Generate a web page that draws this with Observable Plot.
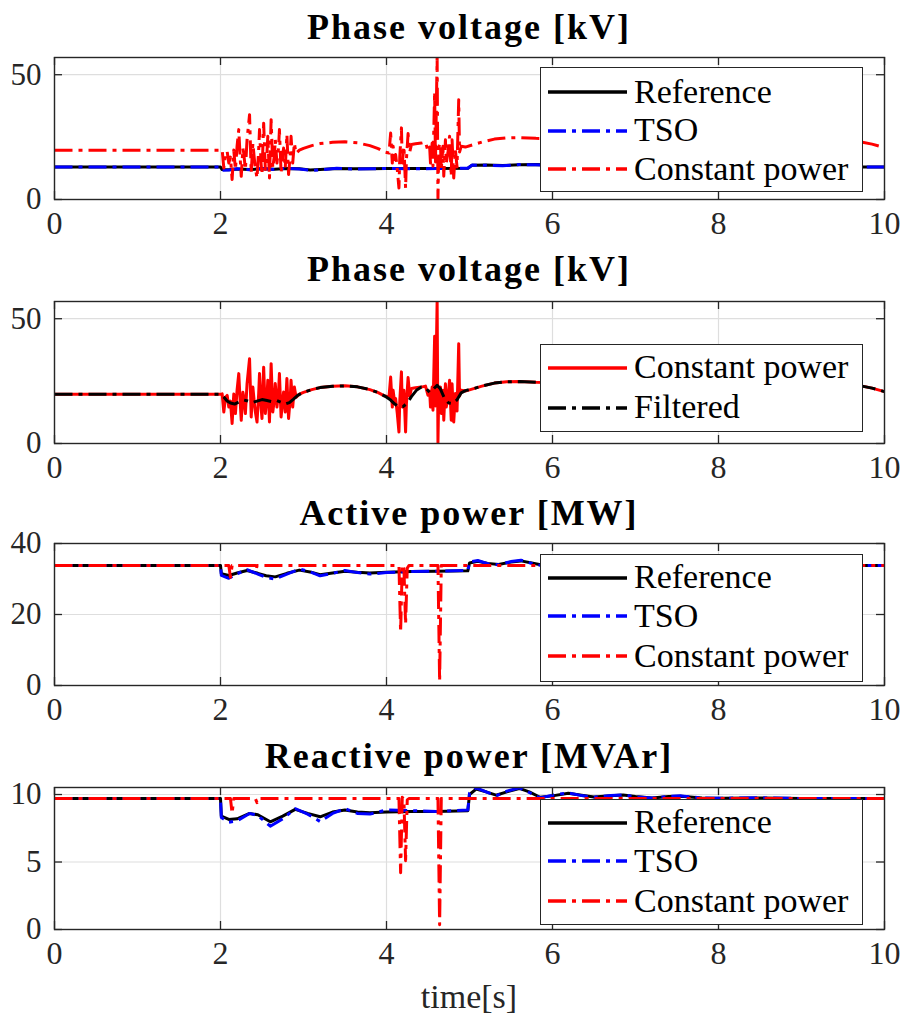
<!DOCTYPE html>
<html>
<head>
<meta charset="utf-8">
<script src="https://cdn.jsdelivr.net/npm/d3@7"></script>
<script src="https://cdn.jsdelivr.net/npm/@observablehq/plot@0.6"></script>
<style>
  body { margin: 0; background: #fff; }
  #wrap { position: relative; width: 904px; height: 1018px; overflow: hidden; font-family: "Liberation Serif", serif; background: #fff; }
  .panel { position: absolute; left: 0; }
  .title { position: absolute; left: 54px; width: 830px; text-align: center; font-weight: bold; font-size: 36px; letter-spacing: 2px; line-height: 1; color: #000; white-space: nowrap; }
  .xlabel { position: absolute; left: 54px; width: 830px; text-align: center; font-size: 34px; line-height: 1; color: #262626; }
  .legend { position: absolute; left: 540px; width: 323px; background: #fff; border: 1.3px solid #262626; box-sizing: border-box; }
  .legend .row { position: absolute; left: 0; height: 0; }
  .legend svg { position: absolute; left: 6px; top: -6px; }
  .legend span { position: absolute; left: 93px; top: -17.3px; font-size: 34px; line-height: 1; color: #000; white-space: nowrap; }
</style>
</head>
<body>
<div id="wrap"></div>
<script>
// ---------- labels / ticks ----------
const titles = ["Phase voltage [kV]", "Phase voltage [kV]", "Active power [MW]", "Reactive power [MVAr]"];
const xLabel = "time[s]";
const xTicks = [0, 2, 4, 6, 8, 10];
const yTicksV = [0, 50];
const yTicksP = [0, 20, 40];
const yTicksQ = [0, 5, 10];
const seriesNames = ["Reference", "TSO", "Constant power", "Filtered"];

// ---------- Panel 1: phase voltage ----------
const v1RefT = [0, 2.0, 2.02, 2.1, 2.2, 2.35, 2.5, 2.65, 2.8, 2.95, 3.08, 3.2, 3.4, 3.6, 3.8, 4.0, 4.3, 4.6, 4.98, 5.03, 5.2, 5.4, 5.6, 5.8, 6.1, 6.5, 7.0, 7.5, 8.0, 9.0, 10];
const v1RefV = [13.0, 13.0, 12.0, 11.9, 12.2, 12.0, 12.3, 12.1, 12.4, 12.3, 11.8, 12.0, 12.4, 12.3, 12.3, 12.4, 12.4, 12.4, 12.5, 13.7, 13.8, 13.6, 13.9, 14.0, 13.6, 13.3, 13.1, 13.0, 13.0, 13.0, 13.0];
const v1TsoT = [0, 2.0, 2.02, 2.1, 2.2, 2.35, 2.5, 2.65, 2.8, 2.95, 3.1, 3.25, 3.4, 3.6, 3.8, 4.0, 4.3, 4.6, 4.98, 5.03, 5.2, 5.4, 5.6, 5.8, 6.1, 6.5, 7.0, 7.5, 8.0, 9.0, 10];
const v1TsoV = [13.0, 13.0, 11.7, 11.8, 12.3, 11.9, 12.4, 12.0, 12.5, 12.2, 11.6, 12.0, 12.5, 12.2, 12.3, 12.4, 12.3, 12.4, 12.5, 13.8, 13.7, 13.5, 14.0, 13.9, 13.5, 13.3, 13.1, 13.0, 13.0, 13.0, 13.0];

// Constant power voltage (shared by panels 1 and 2)
const vCpT = [0, 2.00, 2.02, 2.04, 2.06, 2.08, 2.10, 2.12, 2.14, 2.16, 2.18, 2.20, 2.22, 2.24, 2.25, 2.27, 2.28, 2.30, 2.32, 2.35, 2.37, 2.39, 2.41, 2.42, 2.44, 2.46, 2.47, 2.49, 2.50, 2.52, 2.54, 2.56, 2.57, 2.59, 2.61, 2.63, 2.65, 2.66, 2.68, 2.70, 2.71, 2.73, 2.75, 2.76, 2.78, 2.80, 2.82, 2.84, 2.85, 2.87, 2.89, 2.91,
  2.95, 3.00, 3.10, 3.20, 3.35, 3.50, 3.65, 3.80, 3.90, 3.98,
  4.03, 4.05, 4.07, 4.08, 4.10, 4.11, 4.13, 4.15, 4.16, 4.18, 4.19, 4.21, 4.23, 4.24, 4.26, 4.28, 4.30, 4.35, 4.42, 4.47,
  4.50, 4.52, 4.53, 4.55, 4.56, 4.58, 4.59, 4.61, 4.62, 4.63, 4.65, 4.66, 4.68, 4.69, 4.71, 4.72, 4.74, 4.76, 4.78, 4.79, 4.81, 4.83, 4.85, 4.87, 4.88, 4.90,
  4.95, 5.05, 5.15, 5.30, 5.45, 5.60, 5.80, 6.20, 6.80, 7.50, 8.20, 9.00, 9.50, 9.70, 9.85, 10.0];
const vCpV = [19.7, 19.7, 19.9, 12.6, 18.5, 19.3, 14.6, 17.0, 8.0, 19.8, 12.0, 21.5, 28.0, 15.0, 9.3, 20.5, 18.6, 12.0, 24.0, 34.0, 10.6, 22.6, 15.5, 12.6, 8.6, 20.0, 28.0, 14.0, 10.0, 30.6, 12.0, 19.0, 25.3, 8.6, 32.0, 12.6, 18.0, 24.0, 14.6, 21.0, 28.0, 10.6, 17.5, 20.6, 12.6, 26.0, 10.0, 18.0, 25.3, 14.6, 22.6, 18.5,
  19.8, 20.5, 21.6, 22.4, 22.9, 23.1, 22.7, 21.6, 20.4, 19.0,
  18.6, 26.6, 14.6, 21.3, 16.0, 18.0, 12.0, 4.6, 17.0, 28.7, 14.6, 21.3, 4.6, 16.0, 26.4, 19.0, 22.0, 22.3, 22.6, 23.0,
  19.3, 21.0, 14.6, 22.6, 13.3, 43.0, 15.0, 57.0, 0.5, 21.0, 22.6, 12.0, 21.3, 9.3, 23.9, 14.6, 18.6, 25.3, 9.3, 23.9, 8.6, 20.0, 13.0, 40.0, 19.0, 21.3,
  21.0, 22.0, 23.0, 24.2, 24.7, 24.8, 24.5, 24.2, 24.0, 23.9, 24.0, 24.0, 23.7, 23.2, 22.2, 20.8];

// Filtered (panel 2)
const vFiltT = [0, 2.0, 2.04, 2.08, 2.12, 2.17, 2.22, 2.28, 2.33, 2.38, 2.44, 2.50, 2.56, 2.62, 2.68, 2.73, 2.78, 2.83, 2.88, 2.93, 3.00, 3.10, 3.20, 3.35, 3.50, 3.65, 3.80, 3.90, 3.98,
  4.05, 4.10, 4.15, 4.20, 4.25, 4.30, 4.36, 4.42, 4.47, 4.52, 4.57, 4.61, 4.65, 4.70, 4.75, 4.80, 4.85, 4.90, 4.95,
  5.05, 5.15, 5.30, 5.45, 5.60, 5.80, 6.20, 6.80, 7.50, 8.20, 9.00, 9.50, 9.70, 9.85, 10.0];
const vFiltV = [19.7, 19.7, 18.6, 17.0, 16.2, 15.8, 16.6, 17.4, 17.0, 16.4, 17.0, 17.6, 17.2, 16.8, 17.2, 16.5, 15.8, 16.4, 17.8, 19.3, 20.5, 21.6, 22.4, 22.9, 23.1, 22.7, 21.6, 20.4, 19.0,
  17.4, 15.8, 14.6, 14.8, 16.2, 18.8, 21.3, 22.6, 22.3, 20.5, 22.0, 23.3, 21.8, 18.0, 16.2, 16.0, 17.5, 20.3, 21.2,
  22.0, 23.0, 24.2, 24.7, 24.8, 24.5, 24.2, 24.0, 23.9, 24.0, 24.0, 23.7, 23.2, 22.2, 20.8];

// ---------- Panel 3: active power ----------
const pT = [0, 2.0, 2.01, 2.1, 2.2, 2.32, 2.45, 2.55, 2.66, 2.8, 2.95, 3.08, 3.2, 3.35, 3.5, 3.65, 3.8, 4.0, 4.3, 4.6, 4.98, 5.0, 5.1, 5.22, 5.35, 5.5, 5.62, 5.75, 5.9, 6.1, 6.4, 6.8, 7.2, 7.8, 8.5, 10];
const pRefV = [33.8, 33.8, 31.5, 31.0, 31.7, 32.4, 31.6, 30.9, 30.6, 31.6, 32.5, 32.0, 31.2, 31.7, 32.2, 31.9, 31.7, 31.9, 32.1, 32.2, 32.3, 34.5, 35.0, 34.4, 34.1, 34.8, 35.1, 34.5, 33.8, 34.3, 33.6, 34.0, 33.7, 33.9, 33.8, 33.8];
const pTsoV = [33.8, 33.8, 31.0, 30.2, 31.5, 32.6, 31.4, 30.4, 30.0, 31.4, 32.8, 32.0, 30.9, 31.6, 32.4, 31.8, 31.4, 31.8, 32.1, 32.2, 32.4, 34.8, 35.2, 34.3, 34.0, 34.9, 35.3, 34.4, 33.6, 34.4, 33.5, 34.1, 33.6, 33.9, 33.8, 33.8];
const pCpT = [0, 2.1, 2.12, 2.14, 2.42, 2.43, 2.44, 4.15, 4.17, 4.19, 4.21, 4.23, 4.25, 4.27, 4.62, 4.64, 4.66, 10];
const pCpV = [33.8, 33.8, 30.5, 33.8, 33.8, 32.5, 33.8, 33.8, 15.0, 34.0, 33.0, 17.3, 33.0, 33.8, 33.8, 1.2, 33.8, 33.8];

// ---------- Panel 4: reactive power ----------
const qT = [0, 2.0, 2.01, 2.1, 2.2, 2.35, 2.45, 2.6, 2.75, 2.9, 3.05, 3.2, 3.35, 3.5, 3.65, 3.8, 4.0, 4.3, 4.6, 4.98, 5.0, 5.08, 5.2, 5.32, 5.45, 5.6, 5.72, 5.85, 6.0, 6.19, 6.35, 6.5, 6.7, 6.85, 7.0, 7.2, 7.4, 7.55, 7.8, 8.0, 8.5, 9.0, 10];
const qRefV = [9.7, 9.7, 8.4, 8.15, 8.2, 8.6, 8.5, 7.98, 8.4, 8.9, 8.6, 8.35, 8.7, 8.85, 8.7, 8.65, 8.7, 8.75, 8.75, 8.8, 10.0, 10.4, 10.2, 9.95, 10.2, 10.45, 10.2, 9.8, 9.9, 10.1, 9.95, 9.82, 9.9, 9.97, 9.85, 9.75, 9.85, 9.88, 9.75, 9.72, 9.75, 9.7, 9.7];
const qTsoV = [9.7, 9.7, 8.3, 7.95, 8.05, 8.6, 8.45, 7.65, 8.2, 8.95, 8.55, 8.0, 8.6, 8.95, 8.6, 8.55, 8.85, 8.8, 8.75, 8.85, 10.1, 10.5, 10.2, 9.9, 10.25, 10.5, 10.15, 9.75, 9.95, 10.12, 9.92, 9.8, 9.92, 9.98, 9.83, 9.74, 9.86, 9.9, 9.74, 9.72, 9.76, 9.7, 9.7];
const qCpT = [0, 2.12, 2.14, 2.16, 2.42, 2.44, 2.46, 4.15, 4.17, 4.19, 4.21, 4.23, 4.25, 4.27, 4.62, 4.64, 4.66, 10];
const qCpV = [9.7, 9.7, 8.6, 9.7, 9.7, 9.4, 9.7, 9.7, 4.2, 9.8, 9.6, 5.1, 9.6, 9.7, 9.7, 0.35, 9.7, 9.7];

// ---------- helpers ----------
const zipTV = (t, v) => t.map((x, i) => ({t: x, v: v[i]}));
const BLACK = "#000000", BLUE = "#0000ff", RED = "#ff0000";
const DASHDOT = "18,6,4,6";
const AX = "#262626";
const FONT = "Liberation Serif, serif";
const plotH = 142, plotW = 830;

function lineMark(t, v, color, dashed) {
  return Plot.line(zipTV(t, v), {
    x: "t", y: "v", stroke: color, strokeWidth: 3,
    strokeDasharray: dashed ? DASHDOT : null,
    strokeLinecap: "butt", strokeLinejoin: "round", clip: true
  });
}

function makePanel(yDomain, yTicks, lines, marginBottom) {
  return Plot.plot({
    width: 904, height: 50 + plotH + marginBottom,
    marginLeft: 54, marginRight: 20, marginTop: 50, marginBottom,
    style: {fontFamily: FONT, fontSize: "32px", color: AX, background: "transparent", overflow: "visible"},
    x: {domain: [0, 10]},
    y: {domain: yDomain},
    marks: [
      Plot.gridX(xTicks, {stroke: "#dedede", strokeOpacity: 1, strokeWidth: 1.2}),
      Plot.gridY(yTicks, {stroke: "#dedede", strokeOpacity: 1, strokeWidth: 1.2}),
      ...lines,
      Plot.tickX(xTicks, {x: d => d, insetTop: plotH - 8, stroke: AX, strokeWidth: 1.3}),
      Plot.tickX(xTicks, {x: d => d, insetBottom: plotH - 8, stroke: AX, strokeWidth: 1.3}),
      Plot.tickY(yTicks, {y: d => d, insetRight: plotW - 8, stroke: AX, strokeWidth: 1.3}),
      Plot.tickY(yTicks, {y: d => d, insetLeft: plotW - 8, stroke: AX, strokeWidth: 1.3}),
      Plot.frame({stroke: AX, strokeWidth: 1.4}),
      Plot.axisX(xTicks, {tickSize: 0, tickPadding: 12, fontSize: 32, label: null, fill: AX}),
      Plot.axisY(yTicks, {tickSize: 0, tickPadding: 13, fontSize: 31, label: null, fill: AX})
    ]
  });
}

const wrap = document.getElementById("wrap");
function place(el, top) {
  const d = document.createElement("div");
  d.className = "panel";
  d.style.top = top + "px";
  d.appendChild(el);
  wrap.appendChild(d);
}
function addTitle(text, baseline) {
  const d = document.createElement("div");
  d.className = "title";
  d.style.top = (baseline - 30.2) + "px";
  d.textContent = text;
  wrap.appendChild(d);
}
function addLegend(top, height, rows, items) {
  const box = document.createElement("div");
  box.className = "legend";
  box.style.top = top + "px";
  box.style.height = height + "px";
  items.forEach((it, i) => {
    const r = document.createElement("div");
    r.className = "row";
    r.style.top = rows[i] + "px";
    r.innerHTML = `<svg width="82" height="12"><line x1="1" x2="80" y1="6" y2="6" stroke="${it.color}" stroke-width="3.5" ${it.dash ? `stroke-dasharray="${DASHDOT}"` : ""}/></svg><span>${it.label}</span>`;
    box.appendChild(r);
  });
  wrap.appendChild(box);
}

// Panel 1
place(makePanel([0, 56.9], yTicksV, [
  lineMark(v1RefT, v1RefV, BLACK, false),
  lineMark(v1TsoT, v1TsoV, BLUE, true),
  lineMark(vCpT, vCpV, RED, true)
], 50), 7);
// Panel 2
place(makePanel([0, 56.9], yTicksV, [
  lineMark(vCpT, vCpV, RED, false),
  lineMark(vFiltT, vFiltV, BLACK, true)
], 50), 251);
// Panel 3
place(makePanel([0, 40], yTicksP, [
  lineMark(pT, pRefV, BLACK, false),
  lineMark(pT, pTsoV, BLUE, true),
  lineMark(pCpT, pCpV, RED, true)
], 50), 493);
// Panel 4
place(makePanel([0, 10.52], yTicksQ, [
  lineMark(qT, qRefV, BLACK, false),
  lineMark(qT, qTsoV, BLUE, true),
  lineMark(qCpT, qCpV, RED, true)
], 52), 737);

addTitle(titles[0], 39);
addTitle(titles[1], 281);
addTitle(titles[2], 525);
addTitle(titles[3], 768);

const xl = document.createElement("div");
xl.className = "xlabel";
xl.style.top = (1008 - 28.5) + "px";
xl.textContent = xLabel;
wrap.appendChild(xl);

const std = [
  {label: seriesNames[0], color: BLACK, dash: false},
  {label: seriesNames[1], color: BLUE, dash: true},
  {label: seriesNames[2], color: RED, dash: true}
];
addLegend(67, 125, [24, 62.5, 101], std);
addLegend(343.5, 88, [23.2, 63.2], [
  {label: seriesNames[2], color: RED, dash: false},
  {label: seriesNames[3], color: BLACK, dash: true}
]);
addLegend(554, 128, [22.7, 61, 101], std);
addLegend(799, 126, [22.7, 61, 101], std);
</script>
</body>
</html>
